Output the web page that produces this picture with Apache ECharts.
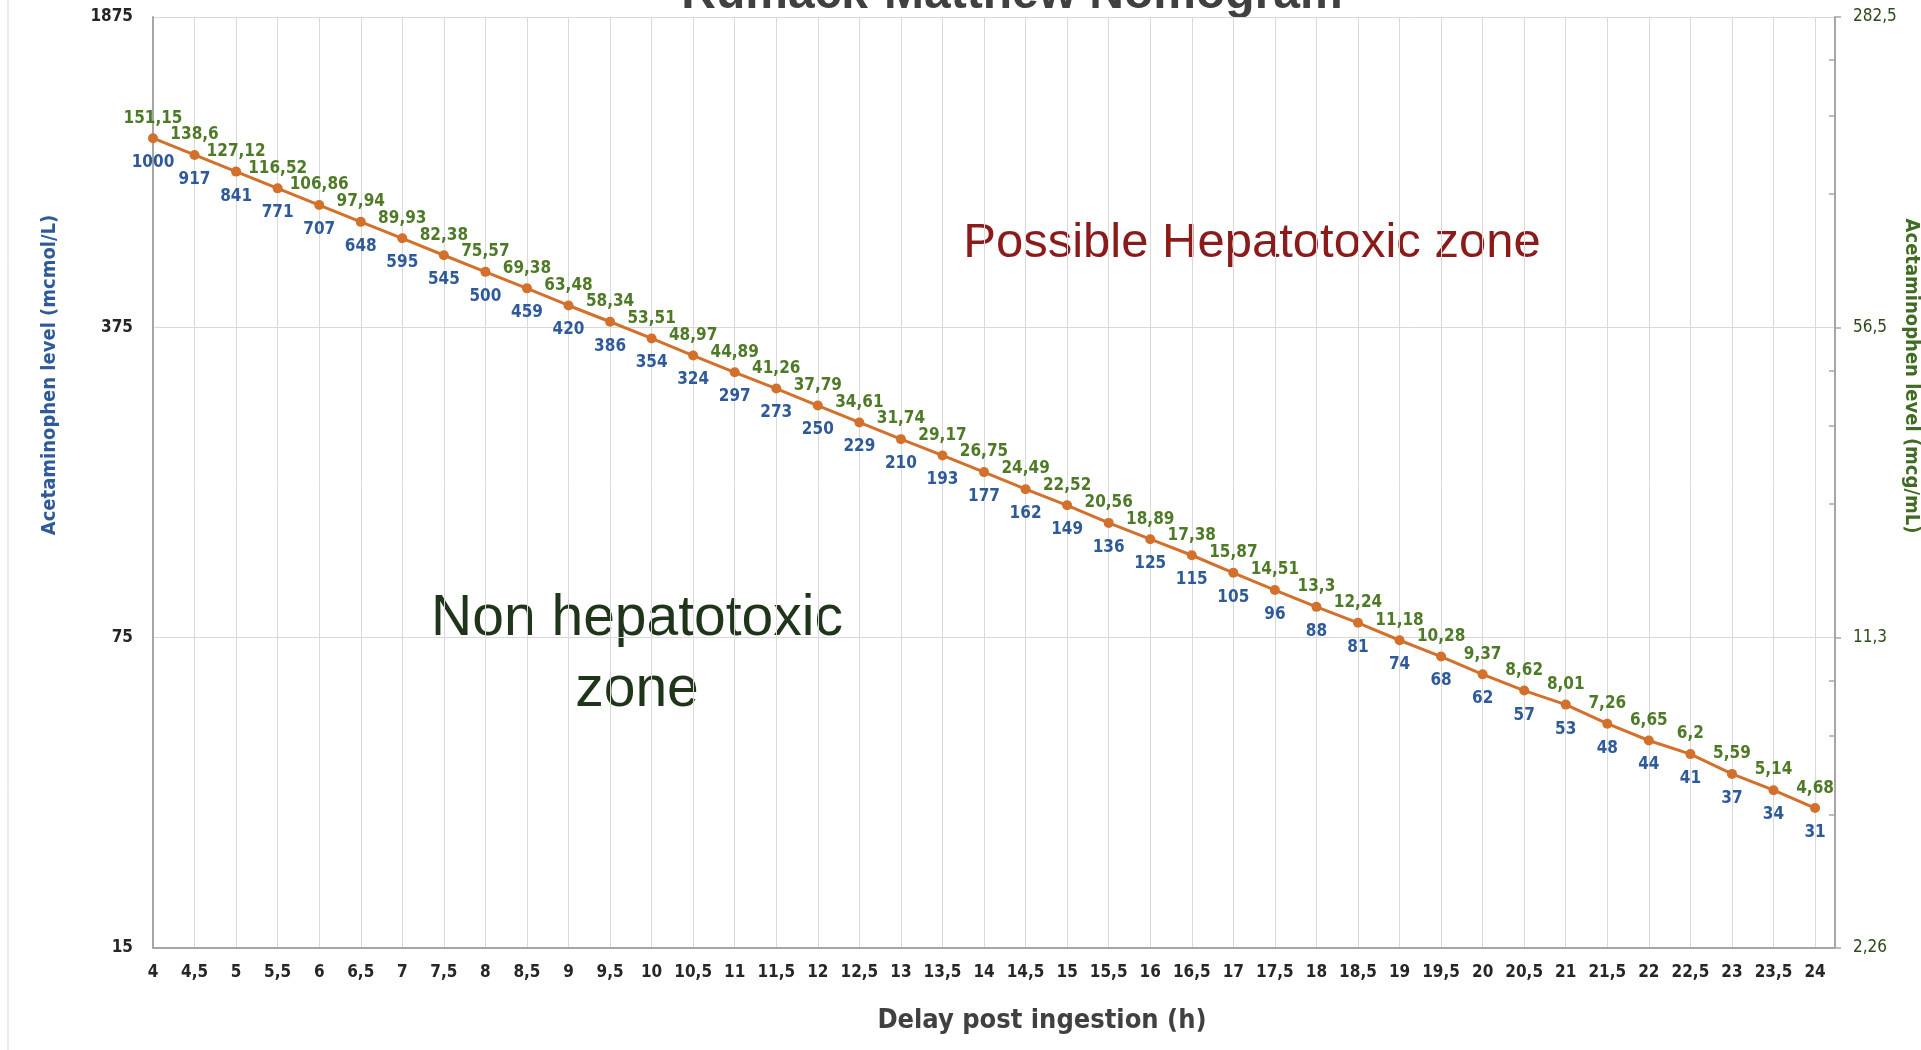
<!DOCTYPE html>
<html>
<head>
<meta charset="utf-8">
<script src="https://cdn.jsdelivr.net/npm/echarts@6/dist/echarts.min.js"></script>
<style>
html,body{margin:0;padding:0;background:#fff;}
#chart{width:1921px;height:1050px;}
</style>
</head>
<body>
<div id="chart"></div>
<script>
// ---- Data ----
const hours = [4,4.5,5,5.5,6,6.5,7,7.5,8,8.5,9,9.5,10,10.5,11,11.5,12,12.5,13,13.5,14,14.5,15,15.5,16,16.5,17,17.5,18,18.5,19,19.5,20,20.5,21,21.5,22,22.5,23,23.5,24];
const mcmolValues = [1000,917,841,771,707,648,595,545,500,459,420,386,354,324,297,273,250,229,210,193,177,162,149,136,125,115,105,96,88,81,74,68,62,57,53,48,44,41,37,34,31];
const mcgValues = [151.15,138.6,127.12,116.52,106.86,97.94,89.93,82.38,75.57,69.38,63.48,58.34,53.51,48.97,44.89,41.26,37.79,34.61,31.74,29.17,26.75,24.49,22.52,20.56,18.89,17.38,15.87,14.51,13.3,12.24,11.18,10.28,9.37,8.62,8.01,7.26,6.65,6.2,5.59,5.14,4.68];
const leftTickLabels = [15,75,375,1875];
const rightTickLabels = [2.26,11.3,56.5,282.5];
const rightMinorTicks = [4.52,6.78,9.04,22.6,33.9,45.2,113,169.5,226];

const FONT = "'DejaVu Sans Condensed', 'DejaVu Sans', sans-serif";
const comma = v => String(v).replace('.', ',');

const chart = echarts.init(document.getElementById('chart'), null, {renderer:'canvas'});
const option = {
  animation: false,
  backgroundColor: '#ffffff',
  grid: {left:153, right:86, top:17, bottom:102, containLabel:false, outerBoundsMode:'none'},
  xAxis: {
    type:'value', min:4, max:24.24, interval:0.5,
    axisLine:{show:true, lineStyle:{color:'#A6A6A6', width:2}},
    axisTick:{show:false},
    splitLine:{show:true, lineStyle:{color:'#D9D9D9', width:1}},
    axisLabel:{
      margin:16, color:'#262626', fontFamily:FONT, fontSize:17, fontWeight:'bold', showMaxLabel:false,
      formatter: v => (Math.abs(v*2 - Math.round(v*2)) < 1e-6 && v <= 24.001) ? comma(Math.round(v*2)/2) : ''
    }
  },
  yAxis: [
    {
      type:'log', logBase:5, min:15, max:1875, position:'left',
      axisLine:{show:true, lineStyle:{color:'#A6A6A6', width:2}},
      axisTick:{show:false, customValues:leftTickLabels},
      axisLabel:{customValues:leftTickLabels, margin:20, color:'#262626', fontFamily:FONT, fontSize:17, fontWeight:'bold', formatter: v => comma(v)},
      splitLine:{show:true, lineStyle:{color:'#D9D9D9', width:1}}
    },
    {
      type:'log', logBase:5, min:2.26, max:282.5, position:'right',
      axisLine:{show:true, lineStyle:{color:'#A6A6A6', width:2}},
      axisTick:{show:true, inside:false, length:6, customValues:rightTickLabels, lineStyle:{color:'#A6A6A6', width:1.5}},
      axisLabel:{customValues:rightTickLabels, margin:18, color:'#2D4A1A', fontFamily:FONT, fontSize:17, formatter: v => comma(v)},
      splitLine:{show:false}
    },
    {
      type:'log', logBase:5, min:2.26, max:282.5, position:'right',
      axisLine:{show:false},
      axisTick:{show:true, inside:true, length:6, customValues:rightMinorTicks, lineStyle:{color:'#A6A6A6', width:1.5}},
      axisLabel:{show:false},
      splitLine:{show:false}
    }
  ],
  series: [
    {
      type:'line', xAxisIndex:0, yAxisIndex:0,
      data: hours.map((h,i) => [h, mcmolValues[i]]),
      symbol:'circle', symbolSize:10,
      lineStyle:{color:'#D2702C', width:3},
      itemStyle:{color:'#D2702C'},
      label:{show:true, position:'bottom', distance:11, color:'#2E5A9A', fontFamily:FONT, fontSize:17, fontWeight:'bold',
        formatter: p => comma(p.value[1])},
      z:3
    },
    {
      type:'line', xAxisIndex:0, yAxisIndex:1,
      data: hours.map((h,i) => [h, mcgValues[i]]),
      symbol:'circle', symbolSize:10,
      lineStyle:{width:0, opacity:0},
      itemStyle:{color:'rgba(0,0,0,0)'},
      label:{show:true, position:'top', distance:6, color:'#4E7A27', fontFamily:FONT, fontSize:17, fontWeight:'bold',
        formatter: p => comma(p.value[1])},
      silent:true, z:4
    }
  ],
  graphic: [
    {type:'line', shape:{x1:8, y1:0, x2:8, y2:1050}, style:{stroke:'#D9D9D9', lineWidth:1}, silent:true},
    {type:'text', x:1012, y:-5, style:{text:'Rumack-Matthew Nomogram', font:"bold 48px 'Liberation Sans', Arial, sans-serif", fill:'#404040', align:'center', verticalAlign:'middle'}},
    {type:'text', x:50, y:375, rotation:Math.PI/2, style:{text:'Acetaminophen level (mcmol/L)', font:"bold 20px " + FONT, fill:'#2E5A9A', align:'center', verticalAlign:'middle'}},
    {type:'text', x:1911, y:376, rotation:-Math.PI/2, style:{text:'Acetaminophen level (mcg/mL)', font:"bold 20px " + FONT, fill:'#3F6B22', align:'center', verticalAlign:'middle'}},
    {type:'text', x:1042, y:1021, style:{text:'Delay post ingestion (h)', font:"bold 27px " + FONT, fill:'#404040', align:'center', verticalAlign:'middle'}},
    {type:'text', x:1252, y:243, style:{text:'Possible Hepatotoxic zone', font:"49px 'Liberation Sans', Arial, sans-serif", fill:'#8B1A1A', align:'center', verticalAlign:'middle'}},
    {type:'text', x:637, y:619, style:{text:'Non hepatotoxic', font:"57px 'Liberation Sans', Arial, sans-serif", fill:'#1F3519', align:'center', verticalAlign:'middle'}},
    {type:'text', x:637, y:690, style:{text:'zone', font:"57px 'Liberation Sans', Arial, sans-serif", fill:'#1F3519', align:'center', verticalAlign:'middle'}}
  ]
};
chart.setOption(option);
</script>
</body>
</html>
